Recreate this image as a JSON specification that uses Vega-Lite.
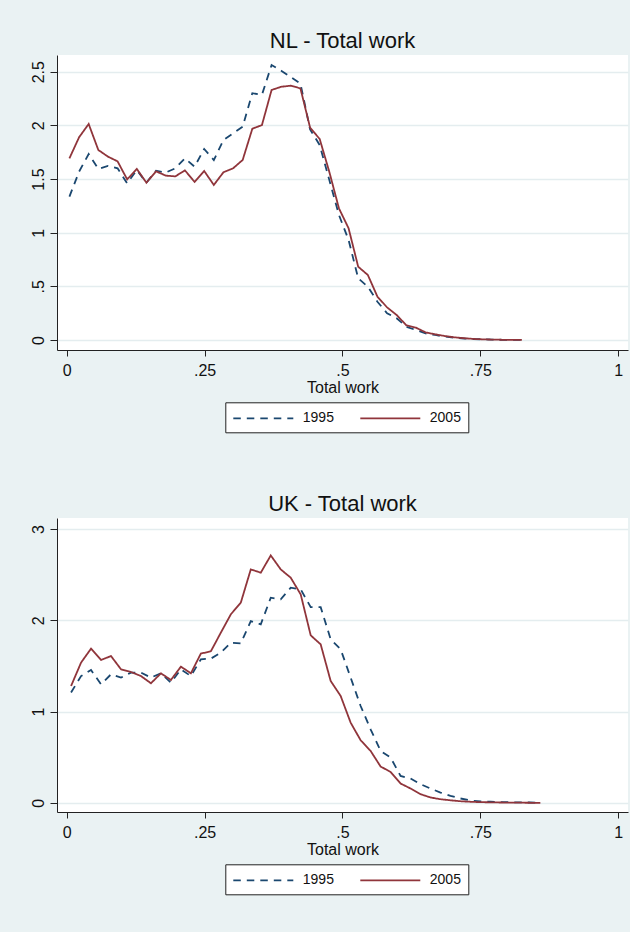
{
  "$schema": "https://vega.github.io/schema/vega-lite/v6.json",
  "background": "#eaf2f3",
  "padding": {"left": 30, "top": 30, "right": 5, "bottom": 45},
  "spacing": 60,
  "config": {
    "font": "Liberation Sans",
    "view": {"fill": "#ffffff", "stroke": null},
    "axis": {
      "domainColor": "#222222", "tickColor": "#222222", "domainWidth": 1, "tickWidth": 1,
      "labelColor": "#111111", "titleColor": "#111111", "labelFont": "Liberation Sans", "titleFont": "Liberation Sans",
      "labelFontSize": 16, "titleFontSize": 16, "titleFontWeight": "normal",
      "gridColor": "#e4edef", "gridWidth": 1.5, "labelFlush": false
    },
    "title": {"fontSize": 22, "fontWeight": "normal", "color": "#111111", "font": "Liberation Sans", "baseline": "alphabetic", "offset": 1.7, "anchor": "middle"},
    "legend": {
      "strokeColor": "#222222", "strokeWidth": 1, "fillColor": "#ffffff", "padding": 7,
      "symbolType": "M-1,0H6.5", "symbolSize": 256, "symbolStrokeWidth": 1.8,
      "labelFontSize": 14, "labelFont": "Liberation Sans", "labelColor": "#111111", "labelOffset": 52.5, "columnPadding": 22
    }
  },
  "datasets": {
    "nl": [
      {"x":0.0050,"d":1.336,"year":"1995"},{"x":0.0225,"d":1.569,"year":"1995"},{"x":0.0399,"d":1.733,"year":"1995"},{"x":0.0574,"d":1.594,"year":"1995"},{"x":0.0748,"d":1.622,"year":"1995"},{"x":0.0923,"d":1.600,"year":"1995"},{"x":0.1097,"d":1.460,"year":"1995"},{"x":0.1272,"d":1.584,"year":"1995"},{"x":0.1446,"d":1.466,"year":"1995"},{"x":0.1621,"d":1.578,"year":"1995"},{"x":0.1795,"d":1.560,"year":"1995"},{"x":0.1970,"d":1.600,"year":"1995"},{"x":0.2144,"d":1.693,"year":"1995"},{"x":0.2319,"d":1.615,"year":"1995"},{"x":0.2493,"d":1.780,"year":"1995"},{"x":0.2668,"d":1.677,"year":"1995"},{"x":0.2842,"d":1.864,"year":"1995"},{"x":0.3017,"d":1.926,"year":"1995"},{"x":0.3191,"d":1.988,"year":"1995"},{"x":0.3366,"d":2.300,"year":"1995"},{"x":0.3540,"d":2.285,"year":"1995"},{"x":0.3715,"d":2.563,"year":"1995"},{"x":0.3889,"d":2.510,"year":"1995"},{"x":0.4064,"d":2.450,"year":"1995"},{"x":0.4238,"d":2.390,"year":"1995"},{"x":0.4413,"d":1.963,"year":"1995"},{"x":0.4587,"d":1.817,"year":"1995"},{"x":0.4762,"d":1.490,"year":"1995"},{"x":0.4936,"d":1.165,"year":"1995"},{"x":0.5111,"d":0.932,"year":"1995"},{"x":0.5285,"d":0.575,"year":"1995"},{"x":0.5460,"d":0.497,"year":"1995"},{"x":0.5634,"d":0.357,"year":"1995"},{"x":0.5809,"d":0.249,"year":"1995"},{"x":0.5983,"d":0.202,"year":"1995"},{"x":0.6158,"d":0.124,"year":"1995"},{"x":0.6332,"d":0.093,"year":"1995"},{"x":0.6507,"d":0.062,"year":"1995"},{"x":0.6681,"d":0.047,"year":"1995"},{"x":0.6856,"d":0.032,"year":"1995"},{"x":0.7030,"d":0.022,"year":"1995"},{"x":0.7205,"d":0.014,"year":"1995"},{"x":0.7379,"d":0.009,"year":"1995"},{"x":0.7554,"d":0.006,"year":"1995"},{"x":0.7728,"d":0.004,"year":"1995"},{"x":0.7903,"d":0.002,"year":"1995"},{"x":0.8077,"d":0.001,"year":"1995"},{"x":0.8252,"d":0.0005,"year":"1995"},
      {"x":0.0050,"d":1.693,"year":"2005"},{"x":0.0225,"d":1.889,"year":"2005"},{"x":0.0399,"d":2.013,"year":"2005"},{"x":0.0574,"d":1.771,"year":"2005"},{"x":0.0748,"d":1.709,"year":"2005"},{"x":0.0923,"d":1.665,"year":"2005"},{"x":0.1097,"d":1.497,"year":"2005"},{"x":0.1272,"d":1.594,"year":"2005"},{"x":0.1446,"d":1.466,"year":"2005"},{"x":0.1621,"d":1.572,"year":"2005"},{"x":0.1795,"d":1.532,"year":"2005"},{"x":0.1970,"d":1.525,"year":"2005"},{"x":0.2144,"d":1.581,"year":"2005"},{"x":0.2319,"d":1.473,"year":"2005"},{"x":0.2493,"d":1.575,"year":"2005"},{"x":0.2668,"d":1.445,"year":"2005"},{"x":0.2842,"d":1.563,"year":"2005"},{"x":0.3017,"d":1.600,"year":"2005"},{"x":0.3191,"d":1.678,"year":"2005"},{"x":0.3366,"d":1.969,"year":"2005"},{"x":0.3540,"d":2.003,"year":"2005"},{"x":0.3715,"d":2.330,"year":"2005"},{"x":0.3889,"d":2.360,"year":"2005"},{"x":0.4064,"d":2.370,"year":"2005"},{"x":0.4238,"d":2.345,"year":"2005"},{"x":0.4413,"d":1.979,"year":"2005"},{"x":0.4587,"d":1.873,"year":"2005"},{"x":0.4762,"d":1.566,"year":"2005"},{"x":0.4936,"d":1.227,"year":"2005"},{"x":0.5111,"d":1.041,"year":"2005"},{"x":0.5285,"d":0.683,"year":"2005"},{"x":0.5460,"d":0.606,"year":"2005"},{"x":0.5634,"d":0.404,"year":"2005"},{"x":0.5809,"d":0.304,"year":"2005"},{"x":0.5983,"d":0.233,"year":"2005"},{"x":0.6158,"d":0.137,"year":"2005"},{"x":0.6332,"d":0.115,"year":"2005"},{"x":0.6507,"d":0.071,"year":"2005"},{"x":0.6681,"d":0.053,"year":"2005"},{"x":0.6856,"d":0.037,"year":"2005"},{"x":0.7030,"d":0.025,"year":"2005"},{"x":0.7205,"d":0.017,"year":"2005"},{"x":0.7379,"d":0.010,"year":"2005"},{"x":0.7554,"d":0.006,"year":"2005"},{"x":0.7728,"d":0.004,"year":"2005"},{"x":0.7903,"d":0.002,"year":"2005"},{"x":0.8077,"d":0.001,"year":"2005"},{"x":0.8252,"d":0.0005,"year":"2005"}
    ],
    "uk": [
      {"x":0.0080,"d":1.208,"year":"1995"},{"x":0.0261,"d":1.389,"year":"1995"},{"x":0.0442,"d":1.455,"year":"1995"},{"x":0.0623,"d":1.299,"year":"1995"},{"x":0.0804,"d":1.408,"year":"1995"},{"x":0.0985,"d":1.372,"year":"1995"},{"x":0.1166,"d":1.427,"year":"1995"},{"x":0.1347,"d":1.427,"year":"1995"},{"x":0.1528,"d":1.372,"year":"1995"},{"x":0.1709,"d":1.419,"year":"1995"},{"x":0.1890,"d":1.317,"year":"1995"},{"x":0.2071,"d":1.463,"year":"1995"},{"x":0.2252,"d":1.389,"year":"1995"},{"x":0.2433,"d":1.572,"year":"1995"},{"x":0.2614,"d":1.580,"year":"1995"},{"x":0.2795,"d":1.645,"year":"1995"},{"x":0.2976,"d":1.755,"year":"1995"},{"x":0.3157,"d":1.747,"year":"1995"},{"x":0.3338,"d":1.991,"year":"1995"},{"x":0.3519,"d":1.955,"year":"1995"},{"x":0.3700,"d":2.247,"year":"1995"},{"x":0.3881,"d":2.229,"year":"1995"},{"x":0.4062,"d":2.357,"year":"1995"},{"x":0.4243,"d":2.338,"year":"1995"},{"x":0.4424,"d":2.144,"year":"1995"},{"x":0.4605,"d":2.144,"year":"1995"},{"x":0.4786,"d":1.791,"year":"1995"},{"x":0.4967,"d":1.682,"year":"1995"},{"x":0.5148,"d":1.372,"year":"1995"},{"x":0.5329,"d":1.061,"year":"1995"},{"x":0.5510,"d":0.806,"year":"1995"},{"x":0.5691,"d":0.569,"year":"1995"},{"x":0.5872,"d":0.496,"year":"1995"},{"x":0.6053,"d":0.295,"year":"1995"},{"x":0.6234,"d":0.267,"year":"1995"},{"x":0.6415,"d":0.205,"year":"1995"},{"x":0.6596,"d":0.157,"year":"1995"},{"x":0.6777,"d":0.113,"year":"1995"},{"x":0.6958,"d":0.077,"year":"1995"},{"x":0.7139,"d":0.048,"year":"1995"},{"x":0.7320,"d":0.026,"year":"1995"},{"x":0.7501,"d":0.016,"year":"1995"},{"x":0.7682,"d":0.012,"year":"1995"},{"x":0.7863,"d":0.009,"year":"1995"},{"x":0.8044,"d":0.007,"year":"1995"},{"x":0.8225,"d":0.005,"year":"1995"},{"x":0.8406,"d":0.004,"year":"1995"},{"x":0.8587,"d":0.003,"year":"1995"},
      {"x":0.0080,"d":1.280,"year":"2005"},{"x":0.0261,"d":1.536,"year":"2005"},{"x":0.0442,"d":1.689,"year":"2005"},{"x":0.0623,"d":1.565,"year":"2005"},{"x":0.0804,"d":1.608,"year":"2005"},{"x":0.0985,"d":1.463,"year":"2005"},{"x":0.1166,"d":1.433,"year":"2005"},{"x":0.1347,"d":1.389,"year":"2005"},{"x":0.1528,"d":1.310,"year":"2005"},{"x":0.1709,"d":1.419,"year":"2005"},{"x":0.1890,"d":1.346,"year":"2005"},{"x":0.2071,"d":1.492,"year":"2005"},{"x":0.2252,"d":1.419,"year":"2005"},{"x":0.2433,"d":1.635,"year":"2005"},{"x":0.2614,"d":1.660,"year":"2005"},{"x":0.2795,"d":1.864,"year":"2005"},{"x":0.2976,"d":2.065,"year":"2005"},{"x":0.3157,"d":2.193,"year":"2005"},{"x":0.3338,"d":2.557,"year":"2005"},{"x":0.3519,"d":2.521,"year":"2005"},{"x":0.3700,"d":2.710,"year":"2005"},{"x":0.3881,"d":2.557,"year":"2005"},{"x":0.4062,"d":2.466,"year":"2005"},{"x":0.4243,"d":2.283,"year":"2005"},{"x":0.4424,"d":1.835,"year":"2005"},{"x":0.4605,"d":1.736,"year":"2005"},{"x":0.4786,"d":1.335,"year":"2005"},{"x":0.4967,"d":1.171,"year":"2005"},{"x":0.5148,"d":0.879,"year":"2005"},{"x":0.5329,"d":0.686,"year":"2005"},{"x":0.5510,"d":0.569,"year":"2005"},{"x":0.5691,"d":0.398,"year":"2005"},{"x":0.5872,"d":0.339,"year":"2005"},{"x":0.6053,"d":0.212,"year":"2005"},{"x":0.6234,"d":0.157,"year":"2005"},{"x":0.6415,"d":0.095,"year":"2005"},{"x":0.6596,"d":0.059,"year":"2005"},{"x":0.6777,"d":0.040,"year":"2005"},{"x":0.6958,"d":0.028,"year":"2005"},{"x":0.7139,"d":0.018,"year":"2005"},{"x":0.7320,"d":0.012,"year":"2005"},{"x":0.7501,"d":0.008,"year":"2005"},{"x":0.7682,"d":0.006,"year":"2005"},{"x":0.7863,"d":0.004,"year":"2005"},{"x":0.8044,"d":0.003,"year":"2005"},{"x":0.8225,"d":0.002,"year":"2005"},{"x":0.8406,"d":0.001,"year":"2005"},{"x":0.8587,"d":0.001,"year":"2005"}
    ]
  },
  "vconcat": [
    {
      "title": "NL - Total work",
      "width": 571, "height": 295,
      "data": {"name": "nl"},
      "mark": {"type": "line", "strokeWidth": 1.8, "clip": true},
      "encoding": {
        "x": {"field": "x", "type": "quantitative",
          "scale": {"domain": [-0.0175, 1.0176], "nice": false, "zero": false},
          "axis": {"title": "Total work", "values": [0, 0.25, 0.5, 0.75, 1], "labelExpr": "datum.value == 0 ? '0' : datum.value == 1 ? '1' : substring(toString(datum.value), 1)", "grid": false, "tickSize": 6, "labelPadding": 6, "titlePadding": 1}},
        "y": {"field": "d", "type": "quantitative",
          "scale": {"domain": [-0.093, 2.656], "nice": false, "zero": false},
          "axis": {"title": null, "values": [0, 0.5, 1, 1.5, 2, 2.5], "labelExpr": "datum.value == 0 ? '0' : datum.value == 0.5 ? '.5' : toString(datum.value)", "grid": true, "tickSize": 7, "labelAngle": -90, "labelAlign": "center", "labelBaseline": "alphabetic", "labelPadding": 6.5}},
        "color": {"field": "year", "type": "nominal",
          "scale": {"domain": ["1995", "2005"], "range": ["#1a476f", "#90353b"]},
          "legend": {"title": null, "orient": "none", "legendX": 168.3, "legendY": 347.3, "direction": "horizontal"}},
        "strokeDash": {"field": "year", "type": "nominal",
          "scale": {"domain": ["1995", "2005"], "range": [[7.5, 6], [1, 0]]},
          "legend": {"title": null, "orient": "none", "legendX": 168.3, "legendY": 347.3, "direction": "horizontal"}}
      }
    },
    {
      "title": "UK - Total work",
      "width": 571, "height": 294,
      "data": {"name": "uk"},
      "mark": {"type": "line", "strokeWidth": 1.8, "clip": true},
      "encoding": {
        "x": {"field": "x", "type": "quantitative",
          "scale": {"domain": [-0.0175, 1.0176], "nice": false, "zero": false},
          "axis": {"title": "Total work", "values": [0, 0.25, 0.5, 0.75, 1], "labelExpr": "datum.value == 0 ? '0' : datum.value == 1 ? '1' : substring(toString(datum.value), 1)", "grid": false, "tickSize": 6, "labelPadding": 6, "titlePadding": 1}},
        "y": {"field": "d", "type": "quantitative",
          "scale": {"domain": [-0.1, 3.12], "nice": false, "zero": false},
          "axis": {"title": null, "values": [0, 1, 2, 3], "grid": true, "tickSize": 7, "labelAngle": -90, "labelAlign": "center", "labelBaseline": "alphabetic", "labelPadding": 6.5}},
        "color": {"field": "year", "type": "nominal",
          "scale": {"domain": ["1995", "2005"], "range": ["#1a476f", "#90353b"]},
          "legend": {"title": null, "orient": "none", "legendX": 168.3, "legendY": 346.3, "direction": "horizontal"}},
        "strokeDash": {"field": "year", "type": "nominal",
          "scale": {"domain": ["1995", "2005"], "range": [[7.5, 6], [1, 0]]},
          "legend": {"title": null, "orient": "none", "legendX": 168.3, "legendY": 346.3, "direction": "horizontal"}}
      }
    }
  ],
  "resolve": {"legend": {"color": "independent", "strokeDash": "independent"}}
}
